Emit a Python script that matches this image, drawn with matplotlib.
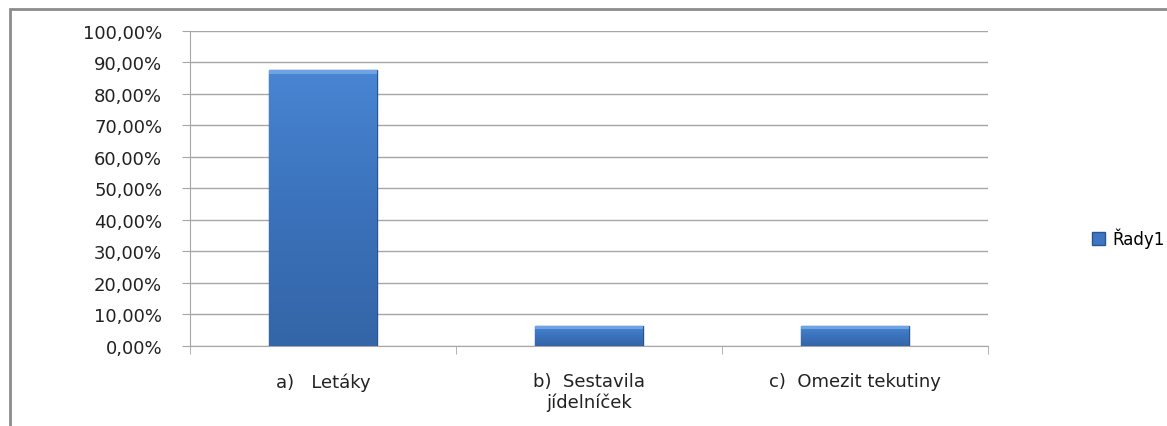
import numpy as np
import matplotlib.pyplot as plt
from matplotlib.patches import Rectangle
from matplotlib.colors import LinearSegmentedColormap
from matplotlib.ticker import FuncFormatter

# Data
categories = ['a)   Letáky', 'b)  Sestavila\njídelníček', 'c)  Omezit tekutiny']
values = [0.875, 0.0625, 0.0625]
series_name = 'Řady1'

fig = plt.figure(figsize=(11.67, 4.27), dpi=100)
ax = fig.add_axes([0.1628, 0.1874, 0.6838, 0.7377])

# outer chart frame (left and top edges visible)
fig.patches.append(Rectangle((10 / 1167, -0.1), 1.2, 0.1 + 417 / 427,
                             transform=fig.transFigure, fill=False,
                             edgecolor='#8c8c8c', linewidth=2))

x = np.arange(len(categories))
bars = ax.bar(x, values, width=0.406, color='#3d76c2', edgecolor='#2a5690',
              linewidth=1, zorder=3, label=series_name)

# vertical gradient inside each bar, like the excel bevel look
grad_cmap = LinearSegmentedColormap.from_list('bar', ['#3465a8', '#3b72bb', '#4885d2'])
for b in bars:
    x0, w, h = b.get_x(), b.get_width(), b.get_height()
    g = np.linspace(0, 1, 100).reshape(-1, 1)
    im = ax.imshow(g, extent=[x0, x0 + w, 0, h], origin='lower', cmap=grad_cmap,
                   aspect='auto', zorder=3.5)
    im.set_clip_path(b)
    # light bevel strip at the top
    ax.add_patch(Rectangle((x0, h - 0.01), w, 0.01, color='#6ea3e4', zorder=4, linewidth=0))

ax.set_xlim(-0.5, 2.5)
ax.set_ylim(0, 1.0)
ax.set_yticks(np.arange(0, 1.01, 0.1))
ax.yaxis.set_major_formatter(FuncFormatter(lambda v, p: f'{v * 100:.2f}%'.replace('.', ',')))
ax.yaxis.grid(True, color='#a6a6a6', linewidth=1, zorder=0)

ax.set_xticks(x)
ax.set_xticklabels(categories, fontsize=13, color='#222222', linespacing=1.15)
ax.set_xticks([-0.5, 0.5, 1.5, 2.5], minor=True)
ax.tick_params(axis='x', which='major', length=0, pad=19)
ax.tick_params(axis='x', which='minor', length=6, color='#a6a6a6', direction='out')
ax.tick_params(axis='y', length=6, color='#a6a6a6', labelsize=13,
               labelcolor='#222222', pad=14)

for s in ['top', 'right']:
    ax.spines[s].set_visible(False)
ax.spines['left'].set_color('#a6a6a6')
ax.spines['bottom'].set_color('#a6a6a6')

leg = fig.legend(handles=[bars], labels=[series_name], loc='center left',
                 bbox_to_anchor=(1092 / 1167, 0.44), frameon=False, borderpad=0,
                 borderaxespad=0, fontsize=12, handlelength=0.8, handleheight=0.8,
                 handletextpad=0.4)

fig.savefig('out.png', dpi=100)
